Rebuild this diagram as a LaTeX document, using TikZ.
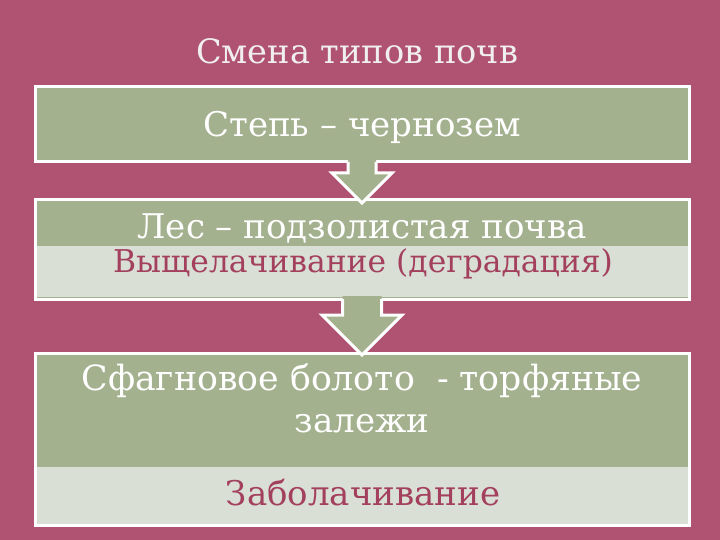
\documentclass[tikz,border=0pt]{standalone}
\usepackage{fontspec}
\setmainfont{DejaVu Serif}
\usepackage{tikz}
\definecolor{rosebg}{HTML}{B05373}
\definecolor{sage}{HTML}{A4B18F}
\definecolor{pale}{HTML}{D9DFD4}
\definecolor{rosetext}{HTML}{A3405D}
\definecolor{titlegray}{HTML}{F0EEEE}

\begin{document}
\begin{tikzpicture}[x=1pt,y=-1pt]
	\fill[rosebg] (0,0) rectangle (720,540);
	\useasboundingbox (0,0) rectangle (720,540);

	\begin{scope}[every node/.style={rectangle, draw=white, line width=3pt, fill=sage,
	                                 minimum width=654pt, inner sep=0pt, outer sep=0pt}]
		\node[minimum height=75pt] (steppe) at (362,124.5) {};
		\node[minimum height=99pt] (forest) at (362,249.5) {};
		\node[minimum height=172pt] (bog) at (362,439) {};
	\end{scope}

	\begin{scope}[every node/.style={rectangle, fill=pale, minimum width=651pt, inner sep=0pt}]
		\node[minimum height=50.5pt] (leach) at (362,271.25) {};
		\node[minimum height=56.5pt] (swamp) at (362,495.25) {};
	\end{scope}

	\begin{scope}[line width=3pt, line join=miter]
		\fill[sage] ([shift={(-14,-3)}]steppe.south) -- ++(0,14) -- ++(-16,0) -- ++(30,30)
			-- ++(30,-30) -- ++(-16,0) -- ++(0,-14) -- cycle;
		\draw[white] ([xshift=-14pt]steppe.south) -- ++(0,11) -- ++(-16,0) -- ++(30,30)
			-- ++(30,-30) -- ++(-16,0) -- ++(0,-11);
		\fill[sage] ([shift={(-19.5,-3)}]forest.south) -- ++(0,19) -- ++(-20.5,0) -- ++(40,40)
			-- ++(40,-40) -- ++(-20.5,0) -- ++(0,-19) -- cycle;
		\draw[white] ([xshift=-19.5pt]forest.south) -- ++(0,16) -- ++(-20.5,0) -- ++(40,40)
			-- ++(40,-40) -- ++(-20.5,0) -- ++(0,-16);
	\end{scope}

	\begin{scope}[every node/.style={font=\fontsize{34}{42}\selectfont, text=white,
	                                 align=center, inner sep=0pt, anchor=base}]
		\node[text=titlegray, font=\fontsize{33.6}{40}\selectfont] (title) at (357,64) {Смена типов почв};
		\node (steppetext) at (362,137) {Степь – чернозем};
		\node (foresttext) at (362,238) {Лес – подзолистая почва};
		\node[text=rosetext, font=\fontsize{31.4}{38}\selectfont] (leachtext) at (363,272) {Выщелачивание (деградация)};
		\node[font=\fontsize{34.7}{42}\selectfont] (bogtext) at (362,390) {Сфагновое болото~ - торфяные};
		\node (bogtext2) at (362,432) {залежи};
		\node[text=rosetext] (swamptext) at (363,505) {Заболачивание};
	\end{scope}
\end{tikzpicture}
\end{document}
